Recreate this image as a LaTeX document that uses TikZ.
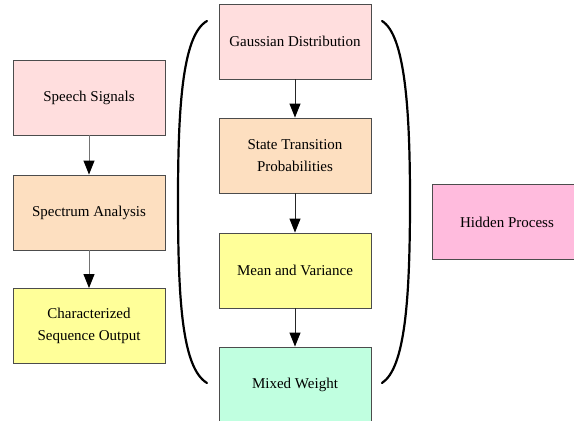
\documentclass[tikz,border=0pt]{standalone}
\usepackage{fontspec}
\setmainfont{Liberation Serif}
\usetikzlibrary{arrows.meta}
\definecolor{cpink}{HTML}{FFDEDE}
\definecolor{cpeach}{HTML}{FDDFC0}
\definecolor{cyellow}{HTML}{FFFF99}
\definecolor{cmint}{HTML}{C0FFE0}
\definecolor{chot}{HTML}{FFBBDD}
\begin{document}
\begin{tikzpicture}[x=1pt,y=-1pt,
  box/.style={draw=black!70,line width=0.9pt,minimum width=152pt,minimum height=75pt,
    align=center,font=\fontsize{15}{22}\selectfont,inner sep=0pt},
  conn/.style={line width=1pt,-{Triangle[length=14pt,width=11pt,color=black,fill=black]}},
  paren/.style={line width=2.2pt,line cap=round}]
\useasboundingbox (0,0) rectangle (574,421);
\begin{scope}
\clip (0,0) rectangle (574,421);
\node[box,fill=cpink] (ss) at (89,97.5) {Speech Signals};
\node[box,fill=cpeach] (sa) at (89,212.5) {Spectrum Analysis};
\node[box,fill=cyellow] (cs) at (89,326) {Characterized\\Sequence Output};
\node[box,fill=cpink] (gd) at (295,41.5) {Gaussian Distribution};
\node[box,fill=cpeach] (st) at (295,155.5) {State Transition\\Probabilities};
\node[box,fill=cyellow] (mv) at (295,270.5) {Mean and Variance};
\node[box,fill=cmint] (mw) at (295,384.5) {Mixed Weight};
\node[box,fill=chot,minimum width=150pt] (hp) at (507,222) {Hidden Process};
\draw[conn,draw=black!55] (ss) -- (sa);
\draw[conn,draw=black!55] (sa) -- (cs);
\draw[conn,draw=black!85] (gd) -- (st);
\draw[conn,draw=black!85] (st) -- (mv);
\draw[conn,draw=black!85] (mv) -- (mw);
\draw[paren] (207,21) .. controls (182,35) and (178,110) .. (178,200)
  .. controls (178,300) and (182,368) .. (207,383);
\draw[paren] (382,21) .. controls (405,35) and (410,110) .. (410,200)
  .. controls (410,300) and (405,368) .. (382,383);
\end{scope}
\end{tikzpicture}
\end{document}
